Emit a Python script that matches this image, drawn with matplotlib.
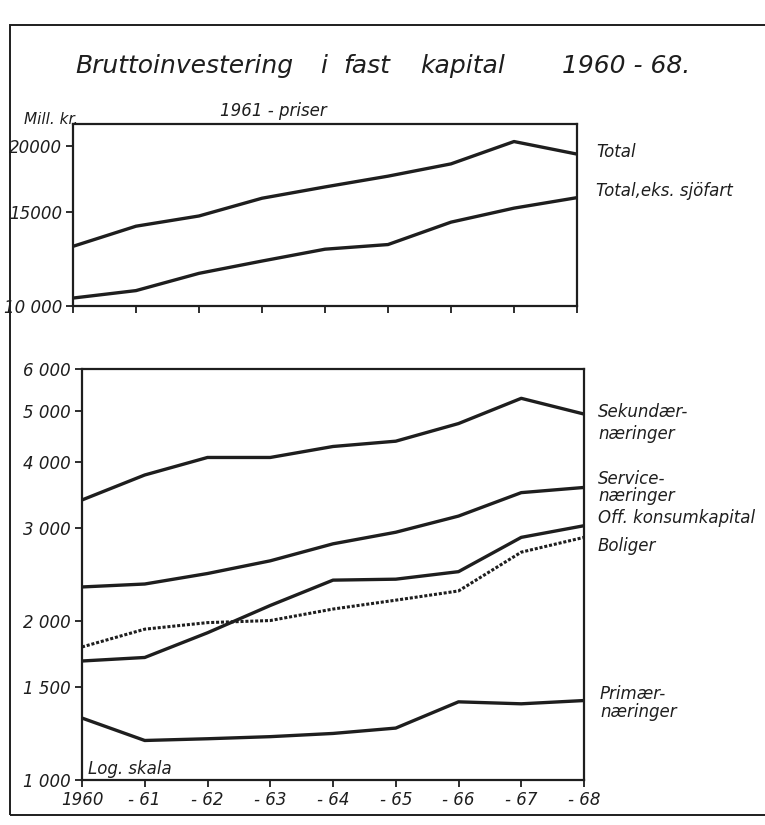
import numpy as np
import matplotlib
matplotlib.use("Agg")
import matplotlib.pyplot as plt
from matplotlib.ticker import FixedLocator, FixedFormatter, NullLocator
from matplotlib.patches import Rectangle

# --- data (mill. kr., 1961-priser) ---
years = [1960, 1961, 1962, 1963, 1964, 1965, 1966, 1967, 1968]
year_labels = ["1960", "- 61", "- 62", "- 63", "- 64", "- 65", "- 66", "- 67", "- 68"]

total = [12950, 14130, 14770, 15950, 16750, 17550, 18510, 20390, 19310]
total_eks_sjofart = [10350, 10690, 11520, 12150, 12790, 13050, 14380, 15280, 15990]

sekundaer = [3390, 3780, 4080, 4080, 4280, 4380, 4730, 5280, 4930]
service = [2320, 2350, 2460, 2600, 2800, 2945, 3160, 3500, 3580]
off_konsum = [1680, 1706, 1900, 2140, 2390, 2400, 2480, 2880, 3030]
boliger = [1786, 1930, 1986, 2004, 2107, 2190, 2280, 2700, 2880]
primaer = [1310, 1188, 1197, 1208, 1225, 1254, 1406, 1394, 1414]

upper_ticks = [10000, 15000, 20000]
upper_ticklabels = ["10 000", "15000", "20000"]
lower_ticks = [1000, 1500, 2000, 3000, 4000, 5000, 6000]
lower_ticklabels = ["1 000", "1 500", "2 000", "3 000", "4 000", "5 000", "6 000"]

W, H = 765, 825
ink = "#1e1e1e"
plt.rcParams["font.family"] = ["DejaVu Sans"]
plt.rcParams["font.style"] = "italic"


def px_axes(fig, x0, y0, x1, y1):
    return fig.add_axes([x0 / W, 1 - y1 / H, (x1 - x0) / W, (y1 - y0) / H])


def txt(fig, x, y, s, size=11, **kw):
    fig.text(x / W, 1 - y / H, s, fontsize=size, color=ink, style="italic", **kw)


def style_axes(ax, ticks, ticklabels, ylim, show_xlabels):
    ax.set_yscale("log")
    ax.set_ylim(*ylim)
    ax.set_xlim(years[0], years[-1])
    ax.yaxis.set_major_locator(FixedLocator(ticks))
    ax.yaxis.set_major_formatter(FixedFormatter(ticklabels))
    ax.yaxis.set_minor_locator(NullLocator())
    ax.xaxis.set_major_locator(FixedLocator(years))
    if show_xlabels:
        ax.xaxis.set_major_formatter(FixedFormatter(year_labels))
    else:
        ax.xaxis.set_major_formatter(FixedFormatter([""] * len(years)))
    ax.tick_params(direction="out", length=5, width=1.3, color=ink,
                   labelsize=12, labelcolor=ink, pad=3)
    for lab in ax.get_xticklabels() + ax.get_yticklabels():
        lab.set_style("italic")
    for sp in ax.spines.values():
        sp.set_linewidth(1.6)
        sp.set_color(ink)


fig = plt.figure(figsize=(W / 100, H / 100), dpi=100)

# outer frame
fig.patches.append(Rectangle((10 / W, 1 - 815 / H), 800 / W, (815 - 25) / H,
                             transform=fig.transFigure, fill=False,
                             edgecolor=ink, linewidth=1.4))

# upper panel
ax1 = px_axes(fig, 73, 124, 577, 306)
ax1.plot(years, total, color=ink, lw=2.4)
ax1.plot(years, total_eks_sjofart, color=ink, lw=2.4)
style_axes(ax1, upper_ticks, upper_ticklabels, (10000, 22000), False)

# lower panel
ax2 = px_axes(fig, 82, 369, 584, 780)
ax2.plot(years, sekundaer, color=ink, lw=2.4)
ax2.plot(years, service, color=ink, lw=2.4)
ax2.plot(years, off_konsum, color=ink, lw=2.4)
ax2.plot(years, boliger, color=ink, lw=2.2, linestyle=(0, (1, 0.6)))
ax2.plot(years, primaer, color=ink, lw=2.4)
style_axes(ax2, lower_ticks, lower_ticklabels, (1000, 6000), True)
ax2.text(0.012, 0.004, "Log. skala", transform=ax2.transAxes, fontsize=12,
         color=ink, style="italic", va="bottom", ha="left")

# title, word by word to get the wide lettering
txt(fig, 75, 73, "Bruttoinvestering", size=18)
txt(fig, 320, 73, "i", size=18)
txt(fig, 343, 73, "fast", size=18)
txt(fig, 420, 73, "kapital", size=18)
txt(fig, 562, 73, "1960 - 68.", size=18)
txt(fig, 220, 116, "1961 - priser", size=12)
txt(fig, 24, 124, "Mill. kr.", size=11)

txt(fig, 596, 157, "Total", size=12)
txt(fig, 596, 196, "Total,eks. sjöfart", size=12)

txt(fig, 598, 417, "Sekundær-", size=12)
txt(fig, 598, 439, "næringer", size=12)
txt(fig, 598, 484, "Service-", size=12)
txt(fig, 598, 501, "næringer", size=12)
txt(fig, 598, 523, "Off. konsumkapital", size=12)
txt(fig, 598, 551, "Boliger", size=12)
txt(fig, 600, 699, "Primær-", size=12)
txt(fig, 600, 717, "næringer", size=12)

fig.savefig("out.png", dpi=100)
